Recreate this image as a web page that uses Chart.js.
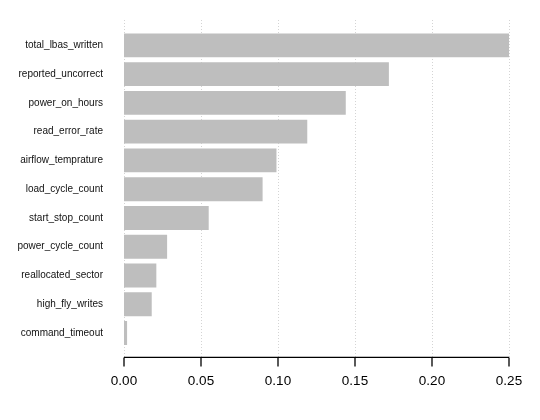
<!DOCTYPE html>
<html>
<head>
<meta charset="utf-8">
<script src="https://cdn.jsdelivr.net/npm/chart.js@4/dist/chart.umd.min.js"></script>
<style>
  html, body { margin: 0; padding: 0; background: #fff; }
  #wrap { width: 540px; height: 420px; }
</style>
</head>
<body>
<div id="wrap"><canvas id="chartBar"></canvas></div>
<script>
  // dados
  const features = ['total_lbas_written', 'reported_uncorrect', 'power_on_hours', 'read_error_rate',
    'airflow_temprature', 'load_cycle_count', 'start_stop_count', 'power_cycle_count',
    'reallocated_sector', 'high_fly_writes', 'command_timeout'];
  const importance = [0.251, 0.172, 0.144, 0.119, 0.099, 0.090, 0.055, 0.028, 0.021, 0.018, 0.002];
  const xTicks = [0, 0.05, 0.10, 0.15, 0.20, 0.25];

  // eixo no estilo do R: linhas pontilhadas + eixo x separado do painel
  const rAxis = {
    id: 'rAxis',
    beforeDatasetsDraw(chart) {
      const ctx = chart.ctx, x = chart.scales.x, area = chart.chartArea;
      ctx.save();
      ctx.strokeStyle = '#d4d4d4';
      ctx.lineWidth = 1;
      ctx.setLineDash([1, 2]);
      xTicks.forEach(function (v) {
        const px = Math.round(x.getPixelForValue(v)) + 0.5;
        ctx.beginPath();
        ctx.moveTo(px, area.top - 11);
        ctx.lineTo(px, area.bottom + 10);
        ctx.stroke();
      });
      ctx.restore();
    },
    afterDraw(chart) {
      const ctx = chart.ctx, x = chart.scales.x, area = chart.chartArea;
      const y0 = area.bottom + 10;
      ctx.save();
      ctx.strokeStyle = '#000';
      ctx.lineWidth = 1.3;
      ctx.beginPath();
      ctx.moveTo(x.getPixelForValue(xTicks[0]), y0);
      ctx.lineTo(x.getPixelForValue(xTicks[xTicks.length - 1]), y0);
      xTicks.forEach(function (v) {
        const px = x.getPixelForValue(v);
        ctx.moveTo(px, y0);
        ctx.lineTo(px, y0 + 9);
      });
      ctx.stroke();
      ctx.restore();
    }
  };

  const ctxBar = document.getElementById('chartBar');
  new Chart(ctxBar, {
    type: 'bar',
    data: {
      labels: features,
      datasets: [{
        data: importance,
        backgroundColor: '#bebebe',
        borderWidth: 0,
        barPercentage: 0.83,
        categoryPercentage: 1
      }]
    },
    plugins: [rAxis],
    options: {
      indexAxis: 'y',
      responsive: true,
      maintainAspectRatio: false,
      animation: false,
      layout: { padding: { top: 31, right: 31, bottom: 0, left: 0 } },
      plugins: {
        legend: { display: false },
        tooltip: { enabled: false }
      },
      scales: {
        x: {
          type: 'linear',
          min: 0,
          max: 0.25,
          afterBuildTicks: function (scale) {
            scale.ticks = xTicks.map(function (v) { return { value: v }; });
          },
          afterFit: function (scale) {
            scale.height = 72.6;
            scale.paddingLeft = 0;
            scale.paddingRight = 0;
          },
          grid: { display: false, drawTicks: false, tickLength: 0 },
          border: { display: false },
          ticks: {
            padding: 26,
            color: '#000',
            font: { family: 'Liberation Sans', size: 13.5 },
            maxRotation: 0,
            callback: function (v) { return v.toFixed(2); }
          }
        },
        y: {
          afterFit: function (scale) { scale.width = 124; },
          grid: { display: false, drawTicks: false, tickLength: 0 },
          border: { display: false },
          ticks: {
            padding: 21,
            color: '#111',
            font: { family: 'Liberation Sans', size: 10 }
          }
        }
      }
    }
  });
</script>
</body>
</html>
